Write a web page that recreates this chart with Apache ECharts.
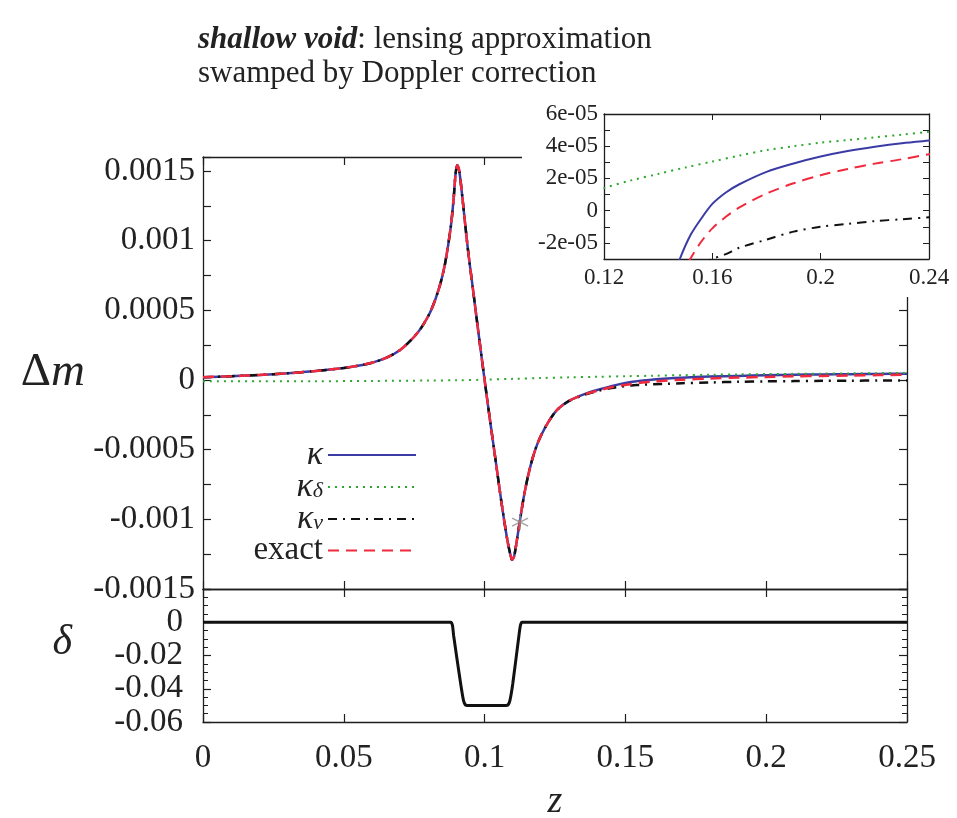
<!DOCTYPE html>
<html><head><meta charset="utf-8">
<script src="https://cdn.jsdelivr.net/npm/echarts@6/dist/echarts.min.js"></script>
<style>html,body{margin:0;padding:0;background:#fff}#c{width:957px;height:818px}</style>
</head><body><div id="c"></div><script>
// ---------------- data ----------------
const zMain = [0, 0.01, 0.02, 0.03, 0.04, 0.05, 0.055, 0.06, 0.065, 0.07, 0.075, 0.078, 0.081, 0.084, 0.086, 0.088, 0.089, 0.0897, 0.0903, 0.091, 0.092, 0.094, 0.096, 0.098, 0.1, 0.102, 0.104, 0.106, 0.108, 0.109, 0.1097, 0.1104, 0.111, 0.112, 0.114, 0.116, 0.118, 0.12, 0.123, 0.126, 0.13, 0.135, 0.14, 0.145, 0.148, 0.152, 0.156, 0.16, 0.165, 0.17, 0.18, 0.19, 0.2, 0.21, 0.22, 0.23, 0.24, 0.25];
const kappa = [0.00002, 0.000027, 0.000036, 0.000048, 0.000064, 0.000086, 0.000102, 0.000124, 0.000158, 0.000215, 0.00031, 0.00039, 0.0005, 0.00067, 0.00084, 0.0011, 0.0013, 0.00148, 0.00154, 0.0015, 0.00133, 0.00095, 0.00063, 0.00031, 0, -0.0003, -0.00059, -0.00088, -0.00114, -0.00124, -0.00129, -0.00127, -0.00121, -0.00108, -0.00083, -0.00064, -0.0005, -0.0004, -0.00029, -0.00021, -0.00015, -0.000105, -0.000072, -0.000045, -0.00003, -0.000015, -0.0000047, 0.0000042, 0.0000113, 0.0000164, 0.0000241, 0.0000293, 0.0000336, 0.000037, 0.0000397, 0.0000419, 0.0000435, 0.000045];
const kappaV = [0.00002, 0.000027, 0.000036, 0.000048, 0.000064, 0.000086, 0.000102, 0.000124, 0.000158, 0.000215, 0.00031, 0.00039, 0.0005, 0.00067, 0.00084, 0.0011, 0.0013, 0.00148, 0.00154, 0.0015, 0.00133, 0.00095, 0.00063, 0.00031, 0, -0.0003, -0.00059, -0.00088, -0.00114, -0.00124, -0.00129, -0.00127, -0.00121, -0.00108, -0.00083, -0.00064, -0.0005, -0.0004, -0.00029, -0.00021, -0.00015, -0.00011, -0.00008, -0.000058, -0.000048, -0.00004, -0.000034, -0.00003, -0.000027, -0.000023, -0.000018, -0.000013, -0.00001, -0.0000082, -0.0000065, -0.0000053, -0.0000041, -0.000003];
const exact = [0.00002, 0.000027, 0.000036, 0.000048, 0.000064, 0.000086, 0.000102, 0.000124, 0.000158, 0.000215, 0.00031, 0.00039, 0.0005, 0.00067, 0.00084, 0.0011, 0.0013, 0.00148, 0.00154, 0.0015, 0.00133, 0.00095, 0.00063, 0.00031, 0, -0.0003, -0.00059, -0.00088, -0.00114, -0.00124, -0.00129, -0.00127, -0.00121, -0.00108, -0.00083, -0.00064, -0.0005, -0.0004, -0.00029, -0.00021, -0.00015, -0.000106, -0.000078, -0.000052, -0.000041, -0.0000295, -0.000019, -0.000011, -0.0000038, 0.000002, 0.0000106, 0.000017, 0.000022, 0.0000259, 0.0000292, 0.0000319, 0.000035, 0.0000375];
const zKappaDelta = [0, 0.02, 0.04, 0.06, 0.08, 0.09, 0.1, 0.11, 0.12, 0.13, 0.14, 0.15, 0.16, 0.17, 0.18, 0.19, 0.2, 0.21, 0.22, 0.23, 0.24, 0.25];
const kappaDelta = [-0.00001, -0.0000095, -0.000009, -0.000007, -0.000004, -0.000002, 0.000002, 0.000008, 0.000014, 0.0000188, 0.0000228, 0.0000268, 0.0000305, 0.0000342, 0.0000376, 0.00004, 0.0000422, 0.0000438, 0.0000455, 0.0000472, 0.000049, 0.000051];
const zProfile = [0, 0.088, 0.0886, 0.089, 0.0915, 0.0925, 0.0932, 0.094, 0.1075, 0.1083, 0.109, 0.11, 0.1122, 0.1127, 0.1133, 0.25];
const deltaProfile = [0, 0, -0.002, -0.008, -0.037, -0.047, -0.0498, -0.05, -0.05, -0.0498, -0.047, -0.037, -0.008, -0.002, 0, 0];
const starPoint = [0.1126, -0.00102];

const xTickLabels = ['0', '0.05', '0.1', '0.15', '0.2', '0.25'];
const mainYTickLabels = ['-0.0015', '-0.001', '-0.0005', '0', '0.0005', '0.001', '0.0015'];
const deltaYTickLabels = ['-0.06', '-0.04', '-0.02', '0'];
const insetXTickLabels = ['0.12', '0.16', '0.2', '0.24'];
const insetYTickLabels = ['-2e-05', '0', '2e-05', '4e-05', '6e-05'];
const seriesNames = ['κ', 'κδ', 'κv', 'exact'];

// ---------------- chart ----------------
const SERIF = '"Liberation Serif", "DejaVu Serif", serif';
const AX = '#1e1e1e';
const BLUE = '#3b3ba6', GREEN = '#2fa82f', BLACK = '#111111', RED = '#f02a3c';
const pairs = (xs, ys) => xs.map((x, i) => [x, ys[i]]);

function pick(arr, v, step, offset) {
  const n = Math.round(v / step);
  if (Math.abs(v - n * step) > step * 1e-6) return '';
  const idx = n - offset;
  return arr[idx] !== undefined ? arr[idx] : '';
}

function axBase(extra) {
  return Object.assign({
    type: 'value',
    axisLine: { show: true, onZero: false, lineStyle: { color: AX, width: 1.3 } },
    axisTick: { show: true, inside: true, length: 8, lineStyle: { color: AX, width: 1.2 } },
    axisLabel: { show: false },
    splitLine: { show: false }
  }, extra);
}
const mainLabel = { show: true, fontFamily: SERIF, fontSize: 33, color: '#222' };
const insetLabel = { show: true, fontFamily: SERIF, fontSize: 23, color: '#222' };
const insetTick = { show: true, inside: true, length: 6, lineStyle: { color: AX, width: 1 } };

const xAxis = [
  axBase({ gridIndex: 0, min: 0, max: 0.25, interval: 0.05, position: 'bottom' }),
  axBase({ gridIndex: 0, min: 0, max: 0.25, interval: 0.05, position: 'top' }),
  axBase({ gridIndex: 1, min: 0, max: 0.25, interval: 0.05, position: 'bottom',
    axisLabel: Object.assign({}, mainLabel, { margin: 20, formatter: v => pick(xTickLabels, v, 0.05, 0) }),
    name: 'z', nameLocation: 'middle', nameGap: 61,
    nameTextStyle: { fontFamily: SERIF, fontStyle: 'italic', fontSize: 38, color: '#222' } }),
  axBase({ gridIndex: 1, min: 0, max: 0.25, interval: 0.05, position: 'top' }),
  axBase({ gridIndex: 2, min: 0.12, max: 0.24, interval: 0.04, position: 'bottom', z: 60, axisTick: insetTick,
    axisLabel: Object.assign({}, insetLabel, { margin: 7, formatter: v => pick(insetXTickLabels, v, 0.04, 3) }) }),
  axBase({ gridIndex: 2, min: 0.12, max: 0.24, interval: 0.04, position: 'top', z: 60, axisTick: insetTick })
];

const yAxis = [
  axBase({ gridIndex: 0, min: -0.0015, max: 0.0016, interval: 0.00025, position: 'left',
    axisLabel: Object.assign({}, mainLabel, { margin: 8, formatter: v => {
      const n = Math.round(v / 0.00025);
      if (Math.abs(v - n * 0.00025) > 1e-9 || n % 2 !== 0) return '';
      return pick(mainYTickLabels, v, 0.0005, -3);
    } }),
    name: '{u|Δ}{i|m}', nameLocation: 'middle', nameRotate: 0, nameGap: 118,
    nameTextStyle: { rich: {
      u: { fontFamily: SERIF, fontSize: 47, color: '#222' },
      i: { fontFamily: SERIF, fontSize: 47, fontStyle: 'italic', color: '#222' } } } }),
  axBase({ gridIndex: 0, min: -0.0015, max: 0.0016, interval: 0.00025, position: 'right' }),
  axBase({ gridIndex: 1, min: -0.06, max: 0.02, interval: 0.02, position: 'left',
    minorTick: { show: true, splitNumber: 4, length: 5, lineStyle: { color: AX, width: 1 } },
    axisLabel: Object.assign({}, mainLabel, { margin: 20, formatter: v => pick(deltaYTickLabels, v, 0.02, -3) }),
    name: 'δ', nameLocation: 'middle', nameRotate: 0, nameGap: 131,
    nameTextStyle: { fontFamily: SERIF, fontStyle: 'italic', fontSize: 42, color: '#222', lineHeight: 26, verticalAlign: 'bottom' } }),
  axBase({ gridIndex: 1, min: -0.06, max: 0.02, interval: 0.02, position: 'right',
    minorTick: { show: true, splitNumber: 4, length: 5, lineStyle: { color: AX, width: 1 } } }),
  axBase({ gridIndex: 2, min: -0.00003, max: 0.00006, interval: 0.00001, position: 'left', z: 60, axisTick: insetTick,
    axisLabel: Object.assign({}, insetLabel, { margin: 6, formatter: v => {
      const n = Math.round(v / 0.00001);
      if (n % 2 !== 0) return '';
      return pick(insetYTickLabels, v, 0.00002, -1);
    } }) }),
  axBase({ gridIndex: 2, min: -0.00003, max: 0.00006, interval: 0.00001, position: 'right', z: 60, axisTick: insetTick })
];

const styles = [
  { color: BLUE, type: 'solid', width: 2.5 },
  { color: GREEN, type: [2, 5], width: 2 },
  { color: BLACK, type: [9, 6, 2, 6], width: 2.5 },
  { color: RED, type: [11, 7], width: 2.5 }
];
const seriesData = [pairs(zMain, kappa), pairs(zKappaDelta, kappaDelta), pairs(zMain, kappaV), pairs(zMain, exact)];

const series = [];
seriesNames.forEach((name, i) => {
  series.push({ type: 'line', name, xAxisIndex: 0, yAxisIndex: 0, data: seriesData[i], symbol: 'none',
    smooth: 0.3, lineStyle: styles[i], itemStyle: { color: styles[i].color }, z: 2 + i });
});
seriesNames.forEach((name, i) => {
  series.push({ type: 'line', name, xAxisIndex: 4, yAxisIndex: 4, data: seriesData[i], symbol: 'none',
    smooth: 0.3, clip: true, lineStyle: Object.assign({}, styles[i], { width: 2 }),
    itemStyle: { color: styles[i].color }, z: 60 + i });
});
series.push({ type: 'scatter', name: 'marker', xAxisIndex: 0, yAxisIndex: 0, data: [starPoint],
  symbol: 'path://M5,0L5,10M0.7,2.5L9.3,7.5M0.7,7.5L9.3,2.5', symbolSize: 16,
  itemStyle: { color: 'transparent', borderColor: '#8c8c8c', borderWidth: 1.5 }, z: 10 });
series.push({ type: 'line', name: 'delta', xAxisIndex: 2, yAxisIndex: 2, data: pairs(zProfile, deltaProfile),
  symbol: 'none', smooth: 0.2, lineStyle: { color: BLACK, width: 3 }, z: 5 });

const legendRich = {
  k: { fontFamily: SERIF, fontSize: 34, fontStyle: 'italic', color: '#222', lineHeight: 30 },
  s: { fontFamily: SERIF, fontSize: 22, fontStyle: 'italic', color: '#222', lineHeight: 16, verticalAlign: 'bottom' },
  r: { fontFamily: SERIF, fontSize: 33, color: '#222', lineHeight: 30 }
};
const legendText = { 'κ': '{k|κ}', 'κδ': '{k|κ}{s|δ}', 'κv': '{k|κ}{s|v}', 'exact': '{r|exact}' };
const legendCenters = [453, 485, 517, 549];
const legend = seriesNames.map((name, i) => ({
  data: [name], orient: 'vertical', align: 'right', right: 540, top: legendCenters[i] - 15,
  itemWidth: 88, itemHeight: 14, padding: 0, selectedMode: false,
  itemStyle: { color: 'transparent', borderColor: 'transparent', borderWidth: 0, opacity: 0 },
  formatter: n => legendText[n], textStyle: { rich: legendRich, fontFamily: SERIF, fontSize: 32, lineHeight: 30 }
}));

const option = {
  animation: false,
  backgroundColor: '#fff',
  title: {
    left: 193, top: 18,
    text: '{b|shallow void}{r|: lensing approximation}\n{r|swamped by Doppler correction}',
    textStyle: { fontWeight: 'normal', rich: {
      b: { fontFamily: SERIF, fontSize: 31, fontWeight: 'bold', fontStyle: 'italic', color: '#222', lineHeight: 34 },
      r: { fontFamily: SERIF, fontSize: 31, fontWeight: 'normal', color: '#222', lineHeight: 34 } } }
  },
  grid: [
    { left: 203, top: 157, width: 704, height: 432, outerBoundsMode: 'none' },
    { left: 203, top: 589, width: 704, height: 133, outerBoundsMode: 'none' },
    { left: 604, top: 114, width: 325, height: 145, outerBoundsMode: 'none', z: 60 }
  ],
  graphic: [{ type: 'rect', shape: { x: 522, y: 96, width: 435, height: 201 }, style: { fill: '#fff' }, z: 50 }],
  legend, xAxis, yAxis, series
};
const chart = echarts.init(document.getElementById('c'), null, { renderer: 'canvas' });
chart.setOption(option);
</script></body></html>
